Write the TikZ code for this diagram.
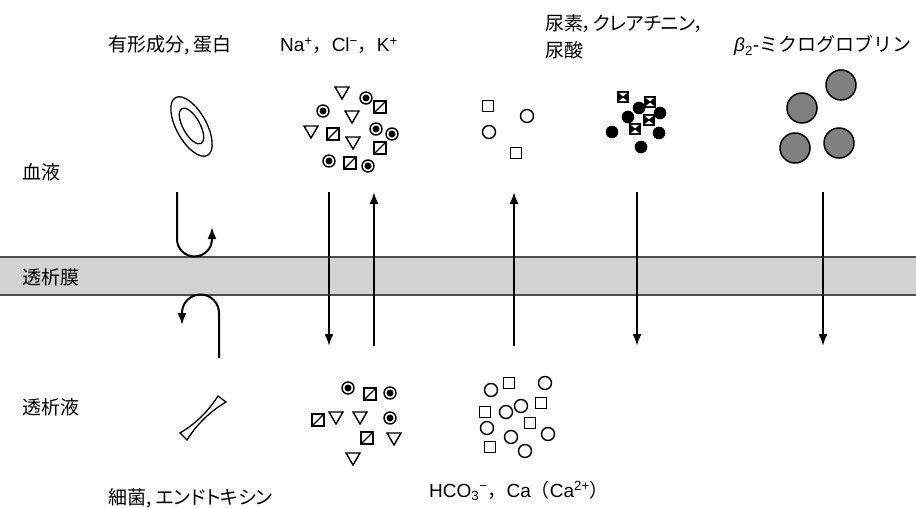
\documentclass[tikz,border=0pt]{standalone}
\usepackage{fontspec}
\setmainfont{Liberation Sans}
\newfontfamily\jp{Noto Sans CJK JP}
\newfontfamily\jpp[RawFeature=+palt]{Noto Sans CJK JP}
\usetikzlibrary{arrows.meta}

\begin{document}
\begin{tikzpicture}[x=1pt,y=-1pt,
  sym/.style={line width=1.4pt, line join=miter},
  flow/.style={line width=2pt, -{Latex[length=12pt,width=9pt]}},
  lbl/.style={anchor=base west, inner sep=0pt, font=\fontsize{19}{22}\selectfont},
  cdot/.pic={\draw[sym] (0,0) circle (6); \fill (0,0) circle (3.5);},
  dsq/.pic={\draw[sym] (-6,-6) rectangle (6,6); \draw[line width=1.1pt] (-6,6) -- (6,-6);},
  tri/.pic={\draw[sym] (-7,-6) -- (7,-6) -- (0,6) -- cycle;},
  osq/.pic={\draw[sym] (-5.5,-5.5) rectangle (5.5,5.5);},
  ocir/.pic={\draw[sym] (0,0) circle (6.5);},
  bdot/.pic={\fill (0,0) circle (6.3);},
  hg/.pic={\fill (-6,-6) rectangle (6,6);
           \fill[white] (-4.2,-4.2) -- (4.2,-4.2) -- (0,-0.6) -- cycle;
           \fill[white] (-4.2,4.2) -- (4.2,4.2) -- (0,0.6) -- cycle;},
  bigc/.pic={\draw[line width=1.5pt, fill={rgb,255:red,128;green,128;blue,128}] (0,0) circle (15);}
]
\useasboundingbox (0,0) rectangle (916,508);

% dialysis membrane
\fill[gray!35] (0,257) rectangle (916,295);
\draw[line width=1.5pt, gray!60!black] (0,257) -- (916,257) (0,295) -- (916,295);

% side labels
\node[lbl] (blood) at (22,179) {\jp 血液};
\node[lbl] (memb)  at (22,284) {\jp 透析膜};
\node[lbl] (dial)  at (22,414) {\jp 透析液};

% column headings
\node[lbl] (h1) at (108,52) {\jp 有形成分, 蛋白};
\node[lbl] (h2) at (280,52) {Na\textsuperscript{+}{\jp ，}Cl\textsuperscript{−}{\jp ，}K\textsuperscript{+}};
\node[lbl] (h3a) at (545,31) {\jpp 尿素，クレアチニン，};
\node[lbl] (h3b) at (545,58) {\jp 尿酸};
\node[lbl] (h4) at (734,52) {\textit{β}\textsubscript{2}-{\jp ミクログロブリン}};
\node[lbl] (f1) at (108,504) {\jpp 細菌, エンドトキシン};
\node[lbl] (f2) at (429,497) {HCO\textsubscript{3}\textsuperscript{−}{\jp ，}Ca{\jp （}Ca\textsuperscript{2+}{\jp ）}};

% formed elements: ring-shaped cell
\draw[line width=1.3pt, shift={(191.5,126.5)}, rotate=-61] (0,0) ellipse (33 and 15);
\draw[line width=1.3pt, shift={(191.5,126)}, rotate=-61] (0,0) ellipse (20 and 8.5);

% bacterium
\coordinate (bA) at (180,433);
\coordinate (bB) at (187,440);
\coordinate (bC) at (226,402);
\coordinate (bD) at (218,396);
\draw[line width=1.3pt, line join=miter] (bA) -- (bB)
  .. controls (196.8,424.3) and (209.8,411.7) .. (bC) -- (bD)
  .. controls (208.3,411.3) and (195.7,423.7) .. cycle;

% electrolytes, blood side
\foreach \p in {(323,111),(366,98),(376,129),(392,134),(329,161),(368,166)} \pic at \p {cdot};
\foreach \p in {(380,107),(333,134),(380,148),(350,163)} \pic at \p {dsq};
\foreach \p in {(342,93),(352,117),(311,132),(353,143)} \pic at \p {tri};

% electrolytes, dialysate side
\foreach \p in {(348,388),(390,393),(390,418)} \pic at \p {cdot};
\foreach \p in {(370,394),(318,420),(367,438)} \pic at \p {dsq};
\foreach \p in {(336,418),(360,418),(394,439),(353,459)} \pic at \p {tri};

% bicarbonate / calcium, blood side
\foreach \p in {(488,106),(516,153)} \pic at \p {osq};
\foreach \p in {(527,116),(489,132)} \pic at \p {ocir};

% bicarbonate / calcium, dialysate side
\foreach \p in {(509,383),(485,412),(541,403),(530,423),(490,447)} \pic at \p {osq};
\foreach \p in {(491,390),(545,383),(506,412),(521,406),(487,428),(511,437),(548,434),(525,451)} \pic at \p {ocir};

% urea, creatinine, uric acid
\foreach \p in {(639,108),(660,113),(628,117),(612,132),(659,133),(641,147)} \pic at \p {bdot};
\foreach \p in {(623,97),(650,102),(649,120),(635,129)} \pic at \p {hg};

% beta2-microglobulin
\foreach \p in {(841,85),(802,108),(795,148),(839,143)} \pic at \p {bigc};

% transport arrows
\coordinate (naT) at (329,192);  \coordinate (naB) at (329,346);
\coordinate (clT) at (374,192);  \coordinate (clB) at (374,346);
\coordinate (hcT) at (514,192);  \coordinate (hcB) at (514,346);
\coordinate (urT) at (637,192);  \coordinate (urB) at (637,346);
\coordinate (btT) at (823,192);  \coordinate (btB) at (823,346);
\draw[flow] (naT) -- (naB);
\draw[flow] (clB) -- (clT);
\draw[flow] (hcB) -- (hcT);
\draw[flow] (urT) -- (urB);
\draw[flow] (btT) -- (btB);

% reflected at the membrane
\coordinate (rt) at (177,192);
\coordinate (rb) at (219,358);
\draw[flow] (rt) -- (177,239) arc[start angle=180, end angle=0, radius=17.5] -- (212,227);
\draw[flow] (rb) -- (219,313) arc[start angle=0, end angle=-180, radius=18.5] -- (182,325);
\end{tikzpicture}
\end{document}
